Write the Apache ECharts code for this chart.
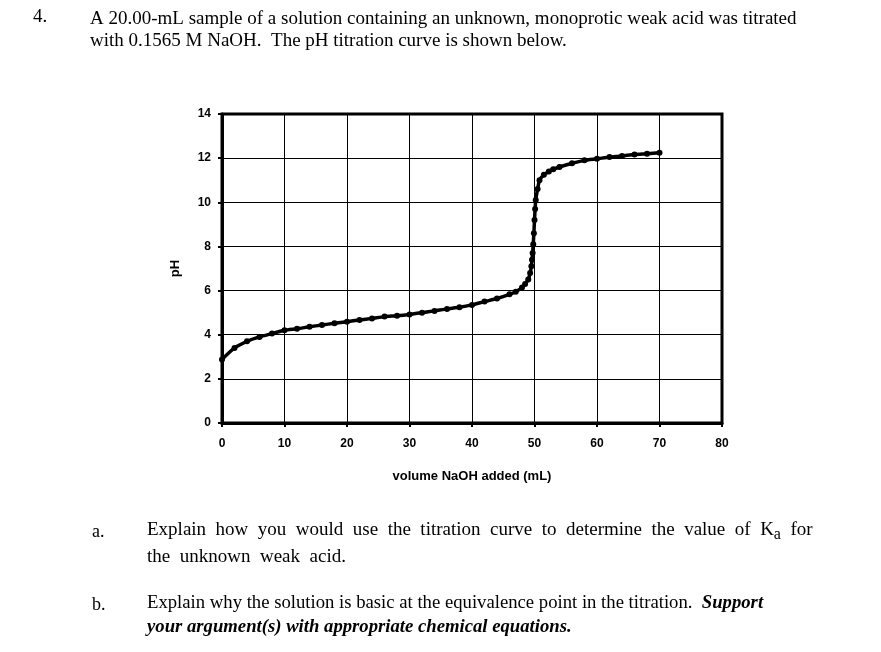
<!DOCTYPE html>
<html>
<head>
<meta charset="utf-8">
<script src="https://cdn.jsdelivr.net/npm/echarts@6/dist/echarts.min.js"></script>
<style>body{margin:0;background:#fff}#c{width:881px;height:652px}</style>
</head>
<body>
<div id="c"></div>
<script>
// volume NaOH (mL) and pH
var volumes = [0, 2, 4, 6, 8, 10, 12, 14, 16, 18, 20, 22, 24, 26, 28, 30, 32, 34, 36, 38, 40, 42, 44, 46, 47, 48, 48.5, 49, 49.3, 49.5, 49.6, 49.7, 49.8, 49.9, 50, 50.1, 50.2, 50.5, 50.8, 51.5, 52.3, 53, 54, 56, 58, 60, 62, 64, 66, 68, 70];
var phValues = [2.88, 3.4, 3.7, 3.9, 4.05, 4.2, 4.27, 4.36, 4.44, 4.52, 4.59, 4.67, 4.74, 4.82, 4.86, 4.92, 5.0, 5.08, 5.17, 5.24, 5.35, 5.5, 5.64, 5.83, 5.95, 6.14, 6.3, 6.5, 6.8, 7.1, 7.4, 7.7, 8.1, 8.6, 9.2, 9.7, 10.1, 10.6, 11.0, 11.25, 11.4, 11.5, 11.6, 11.77, 11.9, 11.97, 12.05, 12.1, 12.17, 12.2, 12.24];
var xTicks = [0, 10, 20, 30, 40, 50, 60, 70, 80];
var yTicks = [0, 2, 4, 6, 8, 10, 12, 14];

var serif = '"Liberation Serif", "Times New Roman", serif';
var sans = '"Liberation Sans", Arial, sans-serif';
var pts = volumes.map(function (v, i) { return [v, phValues[i]]; });

var chart = echarts.init(document.getElementById('c'));
chart.setOption({
  animation: false,
  grid: { left: 222, right: 159, top: 114, bottom: 229, show: true, borderColor: '#000', borderWidth: 3 },
  xAxis: {
    type: 'value', min: xTicks[0], max: xTicks[xTicks.length - 1], interval: 10,
    name: 'volume NaOH added (mL)', nameLocation: 'middle', nameGap: 47,
    nameTextStyle: { fontFamily: sans, fontWeight: 'bold', fontSize: 13, color: '#000' },
    axisLine: { lineStyle: { color: '#000', width: 3 } },
    axisTick: { lineStyle: { color: '#000', width: 2 }, length: 4 },
    axisLabel: { fontFamily: sans, fontWeight: 'bold', fontSize: 12, color: '#000', margin: 15 },
    splitLine: { lineStyle: { color: '#000', width: 1 } }
  },
  yAxis: {
    type: 'value', min: yTicks[0], max: yTicks[yTicks.length - 1], interval: 2,
    name: 'pH', nameLocation: 'middle', nameGap: 40, nameRotate: 90,
    nameTextStyle: { fontFamily: sans, fontWeight: 'bold', fontSize: 13, color: '#000' },
    axisLine: { lineStyle: { color: '#000', width: 3 } },
    axisTick: { show: true, lineStyle: { color: '#000', width: 2 }, length: 4 },
    axisLabel: { fontFamily: sans, fontWeight: 'bold', fontSize: 12, color: '#000', margin: 11 },
    splitLine: { lineStyle: { color: '#000', width: 1 } }
  },
  series: [{
    type: 'line', data: pts, smooth: 0.2,
    symbol: 'circle', symbolSize: 6,
    lineStyle: { color: '#000', width: 3.5 },
    itemStyle: { color: '#000' }
  }],
  graphic: [
    { type: 'text', left: 33, top: 8, style: { text: '4.', font: '19px ' + serif, fill: '#000' } },
    { type: 'text', left: 90, top: 8, style: { text: 'A 20.00-mL sample of a solution containing an unknown, monoprotic weak acid was titrated\nwith 0.1565 M NaOH.  The pH titration curve is shown below.', font: '19px ' + serif, lineHeight: 22, fill: '#000' } },
    { type: 'text', left: 92, top: 523, style: { text: 'a.', font: '18px ' + serif, fill: '#000' } },
    { type: 'text', left: 147, top: 521, style: { rich: { k: { font: '19px ' + serif }, a: { font: '16px ' + serif, padding: [8, 0, 0, 0] } }, text: '{k|Explain  how  you  would  use  the  titration  curve  to  determine  the  value  of  K}{a|a}{k|  for}', fill: '#000' } },
    { type: 'text', left: 147, top: 548, style: { text: 'the  unknown  weak  acid.', font: '19px ' + serif, fill: '#000' } },
    { type: 'text', left: 92, top: 596, style: { text: 'b.', font: '18px ' + serif, fill: '#000' } },
    { type: 'text', left: 147, top: 594, style: { rich: { n: { font: '18.7px ' + serif }, i: { font: 'italic bold 18.7px ' + serif } }, text: '{n|Explain why the solution is basic at the equivalence point in the titration.  }{i|Support}', fill: '#000' } },
    { type: 'text', left: 147, top: 618, style: { text: 'your argument(s) with appropriate chemical equations.', font: 'italic bold 18.7px ' + serif, fill: '#000' } }
  ]
});
</script>
</body>
</html>
